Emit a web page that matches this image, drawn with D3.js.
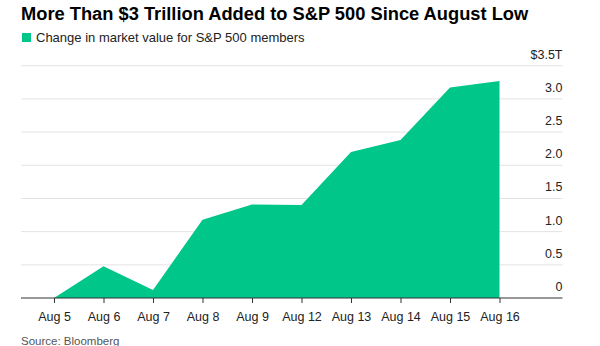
<!DOCTYPE html>
<html>
<head>
<meta charset="utf-8">
<script src="https://cdn.jsdelivr.net/npm/d3@7"></script>
<style>
  body { margin: 0; background: #fff; }
  svg { display: block; font-family: "Liberation Sans", Arial, sans-serif; }
</style>
</head>
<body>
<div class="chart"></div>
<script>
var days = ["Aug 5", "Aug 6", "Aug 7", "Aug 8", "Aug 9", "Aug 12", "Aug 13", "Aug 14", "Aug 15", "Aug 16"];
var values = [0, 0.48, 0.12, 1.18, 1.41, 1.40, 2.20, 2.38, 3.17, 3.27];
var yTicks = [0, 0.5, 1, 1.5, 2, 2.5, 3, 3.5];

const width = 600;
const height = 346;
const green = "#00c68a";

const svg = d3.select('.chart')
    .append('svg')
    .attr('width', width)
    .attr('height', height);

const x = d3.scalePoint().domain(days).range([54, 499.5]);
const y = d3.scaleLinear().domain([0, 3.5]).range([298, 65.7]);
const left = 21, right = 562.5;

// title + legend
svg.append("text")
    .attr("x", 21).attr("y", 20)
    .attr("font-size", "18.3px")
    .attr("font-weight", "bold")
    .attr("fill", "#000")
    .text("More Than $3 Trillion Added to S&P 500 Since August Low");

svg.append("rect")
    .attr("x", 22).attr("y", 33)
    .attr("width", 9).attr("height", 9)
    .attr("fill", green);
svg.append("text")
    .attr("x", 36).attr("y", 42)
    .attr("font-size", "13px")
    .attr("fill", "#222")
    .text("Change in market value for S&P 500 members");

// gridlines
svg.append("g")
    .selectAll("line")
    .data(yTicks.filter(d => d > 0))
    .enter()
    .append("line")
        .attr("x1", left).attr("x2", right)
        .attr("y1", d => y(d)).attr("y2", d => y(d))
        .attr("stroke", "#e3e3e3")
        .attr("stroke-width", 1);

// area
const area = d3.area()
    .x((d, i) => x(days[i]))
    .y0(y(0))
    .y1(d => y(d));
svg.append("path")
    .datum(values)
    .attr("d", area)
    .attr("fill", green);

// y labels
svg.append("g")
    .selectAll("text")
    .data(yTicks)
    .enter()
    .append("text")
        .attr("x", right)
        .attr("y", d => y(d) - 7)
        .attr("text-anchor", "end")
        .attr("font-size", "12.5px")
        .attr("fill", "#222")
        .text(d => d === 3.5 ? "$3.5T" : (d === 0 ? "0" : d.toFixed(1)));

// x axis
const xAxis = svg.append("g")
    .attr("transform", "translate(0," + y(0) + ")")
    .call(d3.axisBottom(x).tickSize(5).tickPadding(9));
xAxis.select(".domain").remove();
xAxis.selectAll(".tick line").attr("stroke", "#333");
xAxis.selectAll(".tick text")
    .attr("font-size", "12.5px")
    .attr("font-family", "Liberation Sans, Arial, sans-serif")
    .attr("fill", "#222");
svg.append("line")
    .attr("x1", left).attr("x2", right)
    .attr("y1", y(0)).attr("y2", y(0))
    .attr("stroke", "#333")
    .attr("stroke-width", 1);

svg.append("text")
    .attr("x", 21).attr("y", 345)
    .attr("font-size", "11.5px")
    .attr("fill", "#555")
    .text("Source: Bloomberg");
</script>
</body>
</html>
